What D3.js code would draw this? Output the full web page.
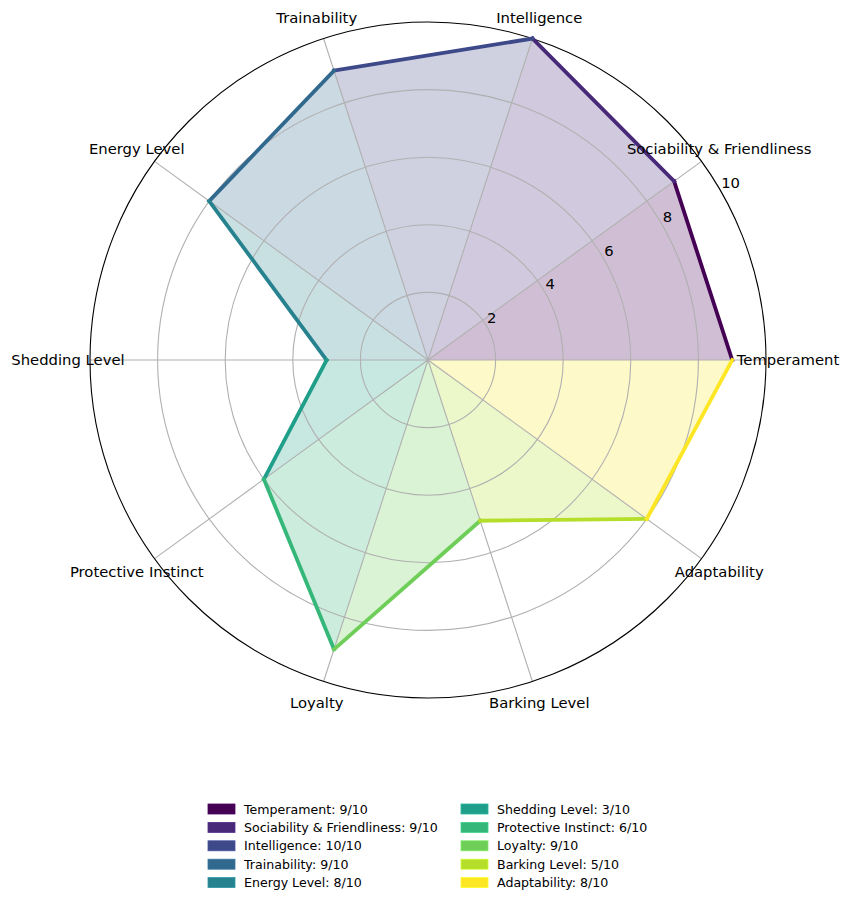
<!DOCTYPE html>
<html>
<head>
<meta charset="utf-8">
<script src="https://cdn.jsdelivr.net/npm/d3@7"></script>
<style>
  body { margin: 0; background: #fff; }
  svg { font-family: "DejaVu Sans", sans-serif; }
</style>
</head>
<body>
<div id="wrapper"></div>
<script>
// chart data
const categories = ["Temperament", "Sociability & Friendliness", "Intelligence", "Trainability",
  "Energy Level", "Shedding Level", "Protective Instinct", "Loyalty", "Barking Level", "Adaptability"];
const scores = [9, 9, 10, 9, 8, 3, 6, 9, 5, 8];
const rTicks = [2, 4, 6, 8, 10];
const maxScore = 10;

const width = 850;
const height = 906;
const cx = 428, cy = 360;
const outerR = 338;

const svg = d3.select("#wrapper")
              .append("svg")
              .attr("width", width)
              .attr("height", height);

const n = categories.length;
const rScale = d3.scaleLinear().domain([0, maxScore]).range([0, outerR]);
// theta counter-clockwise from 3 o'clock, converted to d3's clockwise-from-top
const thetaScale = d3.scaleLinear().domain([0, n]).range([0, 2 * Math.PI]);
const toD3 = i => Math.PI / 2 - thetaScale(i);
const pt = (i, v) => d3.pointRadial(toD3(i), rScale(v));

const color = d3.scaleOrdinal()
                .domain(categories)
                .range(categories.map((c, i) => d3.interpolateViridis(i / (n - 1))));

const g = svg.append("g").attr("transform", `translate(${cx},${cy})`);

// wedge fills (each category spans its own angle to the next one)
g.selectAll(".wedge")
  .data(categories)
  .enter().append("path")
  .attr("class", "wedge")
  .attr("d", (c, i) => {
    const a = pt(i, scores[i]);
    const b = pt((i + 1) % n, scores[(i + 1) % n]);
    return "M0,0L" + a + "L" + b + "Z";
  })
  .style("fill", c => color(c))
  .style("fill-opacity", 0.25);

// grid circles
g.selectAll(".ring")
  .data(rTicks.slice(0, -1))
  .enter().append("circle")
  .attr("r", d => rScale(d))
  .style("fill", "none")
  .style("stroke", "#b0b0b0")
  .style("stroke-width", 1.1);

// spokes
g.selectAll(".spoke")
  .data(categories)
  .enter().append("line")
  .attr("x1", 0).attr("y1", 0)
  .attr("x2", (c, i) => pt(i, maxScore)[0])
  .attr("y2", (c, i) => pt(i, maxScore)[1])
  .style("stroke", "#b0b0b0")
  .style("stroke-width", 1.1);

// outer spine
g.append("circle")
  .attr("r", outerR)
  .style("fill", "none")
  .style("stroke", "#000")
  .style("stroke-width", 1.1);

// outline segments
g.selectAll(".seg")
  .data(categories)
  .enter().append("line")
  .attr("x1", (c, i) => pt(i, scores[i])[0])
  .attr("y1", (c, i) => pt(i, scores[i])[1])
  .attr("x2", (c, i) => pt((i + 1) % n, scores[(i + 1) % n])[0])
  .attr("y2", (c, i) => pt((i + 1) % n, scores[(i + 1) % n])[1])
  .style("stroke", c => color(c))
  .style("stroke-width", 3.8)
  .style("stroke-linecap", "square");

// radial tick labels, placed along 30 degrees
const labelAngle = Math.PI / 2 - Math.PI / 6;
g.selectAll(".rlab")
  .data(rTicks)
  .enter().append("text")
  .attr("x", d => d3.pointRadial(labelAngle, rScale(d))[0] + 0.5)
  .attr("y", d => d3.pointRadial(labelAngle, rScale(d))[1] - 3)
  .style("font-size", "14.8px")
  .style("fill", "#000")
  .text(d => d);

// category labels
g.selectAll(".clab")
  .data(categories)
  .enter().append("text")
  .attr("x", (c, i) => d3.pointRadial(toD3(i), 360)[0])
  .attr("y", (c, i) => d3.pointRadial(toD3(i), 360)[1])
  .attr("text-anchor", "middle")
  .attr("dy", "0.36em")
  .style("font-size", "14.8px")
  .style("fill", "#000")
  .text(c => c);

// legend, two columns
const legendRows = 5;
const colX = [208, 461];
const rowY0 = 809, rowStep = 18.4;

let item = svg.selectAll(".legend-item")
              .data(categories)
              .enter().append("g")
              .attr("class", "legend-item")
              .attr("transform", (c, i) =>
                "translate(" + [colX[Math.floor(i / legendRows)], rowY0 + (i % legendRows) * rowStep] + ")");

item.append("rect")
    .attr("x", 0).attr("y", -5)
    .attr("width", 27).attr("height", 10)
    .style("fill", c => color(c))
    .style("stroke", c => d3.color(color(c)).brighter(0.4))
    .style("stroke-width", 0.8);

item.append("text")
    .attr("x", 36)
    .attr("dy", "0.36em")
    .style("font-size", "12.6px")
    .style("fill", "#000")
    .text((c, i) => c + ": " + scores[i] + "/10");
</script>
</body>
</html>
